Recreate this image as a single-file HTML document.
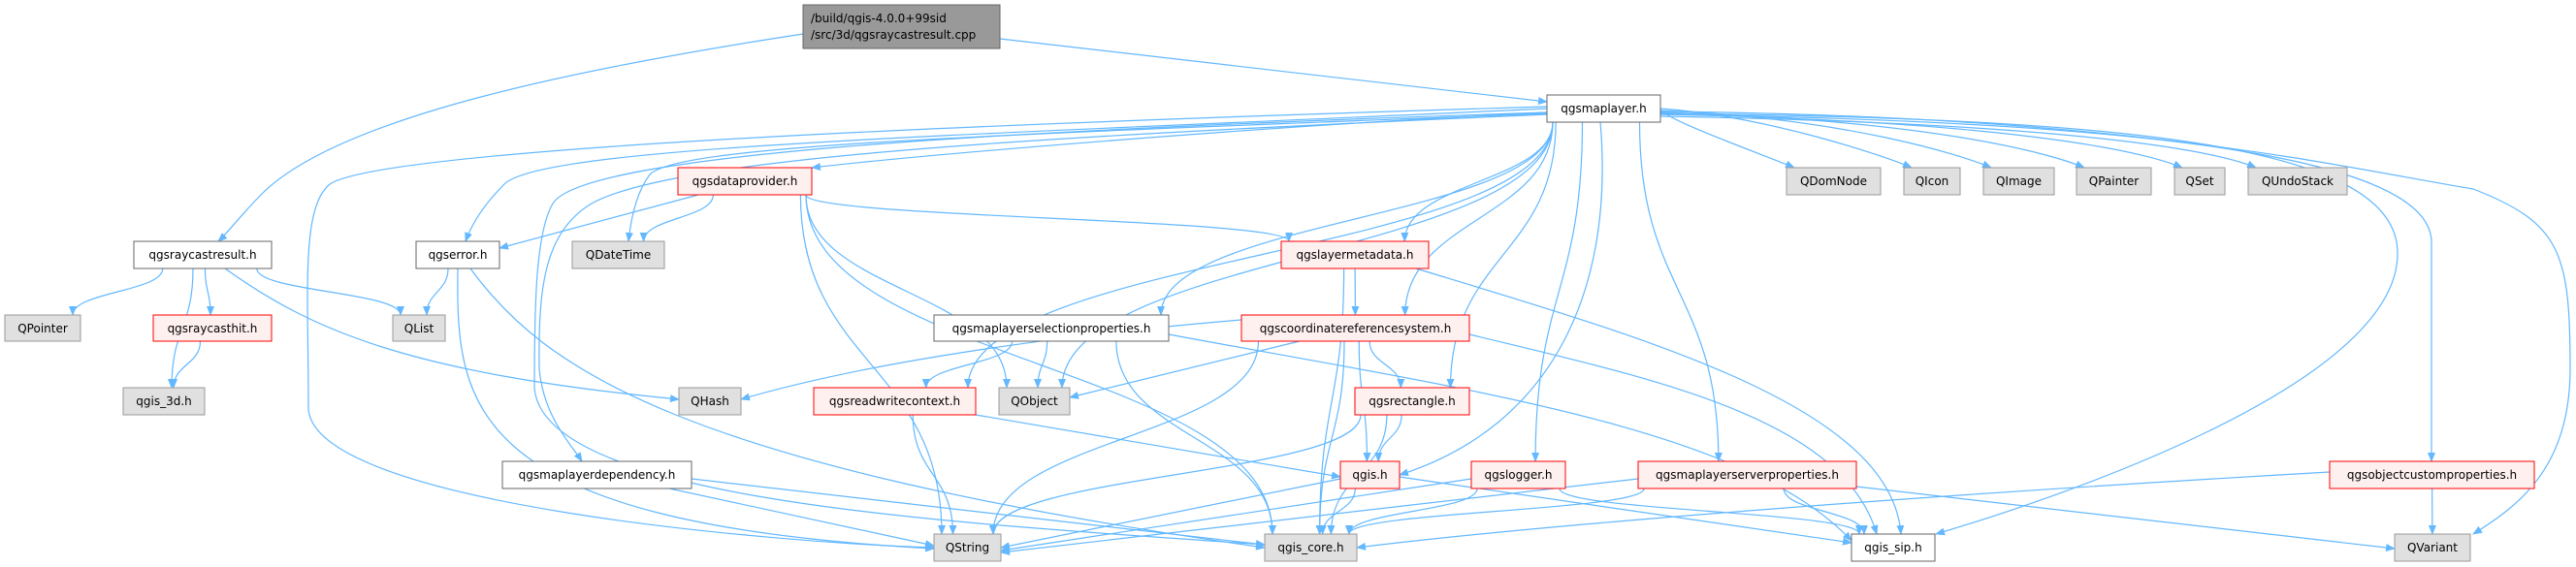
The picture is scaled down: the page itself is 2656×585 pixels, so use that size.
<!DOCTYPE html>
<html><head><meta charset="utf-8">
<style>
html,body{margin:0;padding:0;background:#fff;}
svg{display:block;}
text{font-family:"DejaVu Sans","Liberation Sans",sans-serif;font-size:12px;fill:#000;}
</style></head>
<body>
<svg id="g" width="2656" height="585" viewBox="0 0 2656 585" xmlns="http://www.w3.org/2000/svg">
<defs>
<marker id="ah" markerWidth="10" markerHeight="8" refX="9" refY="4" orient="auto" markerUnits="userSpaceOnUse">
<path d="M0,0 L10,4 L0,8 Z" fill="#63b8ff"/>
</marker>
</defs>
<g id="edges" fill="none" stroke="#63b8ff" stroke-width="1.2"></g>
<g id="nodes">
<rect x="828" y="5" width="203" height="45" fill="#999999" stroke="#666666"/>
<text x="836" y="23">/build/qgis-4.0.0+99sid</text>
<text x="836" y="40">/src/3d/qgsraycastresult.cpp</text>
</g>
</svg>
<script>
var N={
 mp:[1595,1712,98,126,'qgsmaplayer.h','w'],
 dp:[699,837,173,201,'qgsdataprovider.h','r'],
 dom:[1842,1939,173,201,'QDomNode','g'],
 ico:[1963,2021,173,201,'QIcon','g'],
 img:[2045,2118,173,201,'QImage','g'],
 pnt:[2141,2218,173,201,'QPainter','g'],
 set:[2242,2294,173,201,'QSet','g'],
 und:[2318,2420,173,201,'QUndoStack','g'],
 rcr:[138,280,249,277,'qgsraycastresult.h','w'],
 err:[429,515,249,277,'qgserror.h','w'],
 dt:[590,685,249,277,'QDateTime','g'],
 lm:[1321,1473,249,277,'qgslayermetadata.h','r'],
 ptr:[5,83,325,352,'QPointer','g'],
 rch:[158,280,325,352,'qgsraycasthit.h','r'],
 lst:[405,459,325,352,'QList','g'],
 sel:[963,1205,325,352,'qgsmaplayerselectionproperties.h','w'],
 crs:[1280,1515,325,352,'qgscoordinatereferencesystem.h','r'],
 q3d:[127,211,400,428,'qgis_3d.h','g'],
 hsh:[700,764,400,428,'QHash','g'],
 rwc:[839,1006,400,428,'qgsreadwritecontext.h','r'],
 obj:[1030,1103,400,428,'QObject','g'],
 rct:[1397,1515,400,428,'qgsrectangle.h','r'],
 dep:[518,713,476,504,'qgsmaplayerdependency.h','w'],
 qg:[1382,1443,476,504,'qgis.h','r'],
 log:[1517,1614,476,504,'qgslogger.h','r'],
 srv:[1689,1914,476,504,'qgsmaplayerserverproperties.h','r'],
 ocp:[2402,2613,476,504,'qgsobjectcustomproperties.h','r'],
 str:[963,1032,551,579,'QString','g'],
 core:[1304,1399,551,579,'qgis_core.h','g'],
 sip:[1909,1995,551,579,'qgis_sip.h','w'],
 var:[2469,2547,551,579,'QVariant','g'],
 main:[828,1031,5,50,'','m']
};
var P={
 'main-rcr':'M828,35 C600,70 350,120 270,200 C250,220 235,240 225,249',
 'main-mp':'M1031,40 L1595,105',
 'mp-str':'M1595,110 C1100,125 400,150 340,190 C310,215 318,300 318,420 C318,520 800,560 963,565',
 'mp-core':'M1595,116 C1000,135 600,160 570,210 C552,240 551,320 551,400 C560,520 1000,540 1304,562',
 'mp-err':'M1595,112 C1000,140 560,150 520,190 C495,215 485,235 480,249',
 'mp-dep':'M1595,118 C1100,140 700,160 610,210 C560,240 555,300 556,380 C560,430 590,460 600,476',
 'mp-dt':'M1595,117 C1000,140 700,150 670,180 C655,200 650,230 648,249',
 'mp-dp':'M1595,116 C1300,130 950,160 837,173',
 'mp-sip':'M1712,117 C2200,122 2470,150 2472,260 C2475,400 2100,520 1996,551',
 'mp-var':'M1712,115 C2200,120 2400,170 2550,195 C2640,230 2650,260 2650,380 C2650,480 2600,520 2550,551',
 'mp-ocp':'M1712,118 C2200,125 2507,160 2507,250 L2507,476',
 'mp-qg':'M1650,126 C1665,300 1600,440 1443,490',
 'rcr-hsh':'M232,277 C320,340 420,385 700,412',
 'crs-hsh':'M1280,330 C1100,345 900,372 764,412',
 'dp-err':'M720,201 L515,256',
 'crs-obj':'M1340,352 L1103,410',
 'rwc-qg':'M1006,428 L1382,492',
 'err-core':'M485,277 C560,380 700,480 1304,565',
 'err-str':'M472,277 C470,420 480,540 963,566',
 'dep-str':'M690,504 L963,563',
 'dep-core':'M713,494 L1304,562',
 'qg-sip':'M1443,492 L1909,560',
 'lm-sip':'M1460,277 C1700,350 1950,420 1960,551',
 'ocp-core':'M2402,487 C2000,510 1600,540 1399,565',
 'srv-var':'M1914,502 L2469,566',
 'qg-str':'M1382,494 L1032,565',
 'log-str':'M1517,494 L1032,568',
 'srv-str':'M1689,494 L1032,570',
 'sel-sip':'M1205,345 C1500,400 1800,440 1909,558',
 'crs-sip':'M1515,345 C1700,390 1900,430 1935,551'
};
var E=[['main','rcr'],['main','mp'],
['rcr','ptr'],['rcr','q3d'],['rcr','rch'],['rcr','lst'],['rcr','hsh'],['rch','q3d'],
['mp','dp'],['mp','dom'],['mp','ico'],['mp','img'],['mp','pnt'],['mp','set'],['mp','und'],['mp','err'],['mp','dt'],['mp','lm'],['mp','sel'],['mp','crs'],['mp','rwc'],['mp','obj'],['mp','rct'],['mp','dep'],['mp','qg'],['mp','log'],['mp','srv'],['mp','ocp'],['mp','str'],['mp','core'],['mp','sip'],['mp','var'],
['dp','err'],['dp','dt'],['dp','lm'],['dp','obj'],['dp','str'],['dp','core'],
['err','lst'],['err','str'],['err','core'],
['lm','crs'],['lm','core'],['lm','sip'],
['sel','rwc'],['sel','obj'],['sel','core'],['sel','sip'],
['crs','hsh'],['crs','obj'],['crs','rct'],['crs','qg'],['crs','str'],['crs','core'],['crs','sip'],
['rwc','qg'],['rwc','str'],
['rct','qg'],['rct','str'],['rct','core'],
['dep','str'],['dep','core'],
['qg','str'],['qg','core'],['qg','sip'],
['log','str'],['log','core'],['log','sip'],
['srv','str'],['srv','core'],['srv','sip'],['srv','var'],
['ocp','core'],['ocp','var']];
var NS='http://www.w3.org/2000/svg';
var eg=document.getElementById('edges'),ng=document.getElementById('nodes');
function cl(v,a,b){return Math.max(a,Math.min(b,v));}
var qrow={dom:110,ico:112,img:114,pnt:116,set:118,und:120};
E.forEach(function(e){
 var s=N[e[0]],t=N[e[1]],key=e[0]+'-'+e[1],d;
 if(P[key]){d=P[key];}
 else if(e[0]=='mp'&&qrow[e[1]]){
  var y=qrow[e[1]],tx=t[0]+8;
  d='M1712,'+y+' C'+(tx-150)+','+(y+8)+' '+(tx-30)+',160 '+tx+',173';
 } else {
 var sc=(s[0]+s[1])/2,tc=(t[0]+t[1])/2;
 var sx=cl(sc+(tc-sc)*0.25,s[0]+6,s[1]-6),sy=s[3];
 var tx2=cl(tc+(sc-tc)*0.2,t[0]+8,t[1]-8),ty=t[2];
 var my=(sy+ty)/2;
 d='M'+sx+','+sy+' C'+sx+','+my+' '+tx2+','+my+' '+tx2+','+ty;
 }
 var p=document.createElementNS(NS,'path');
 p.setAttribute('d',d);
 p.setAttribute('marker-end','url(#ah)');
 eg.appendChild(p);
});
var C={w:['#ffffff','#666666'],r:['#fff0f0','#ff0000'],g:['#e0e0e0','#999999']};
for(var k in N){var n=N[k];if(n[5]=='m')continue;
 var r=document.createElementNS(NS,'rect');
 r.setAttribute('x',n[0]);r.setAttribute('y',n[2]);r.setAttribute('width',n[1]-n[0]);r.setAttribute('height',n[3]-n[2]);
 r.setAttribute('fill',C[n[5]][0]);r.setAttribute('stroke',C[n[5]][1]);
 ng.appendChild(r);
 var t=document.createElementNS(NS,'text');
 t.setAttribute('x',(n[0]+n[1])/2);t.setAttribute('y',n[2]+18);t.setAttribute('text-anchor','middle');
 t.textContent=n[4];ng.appendChild(t);
}
</script>
</body></html>
